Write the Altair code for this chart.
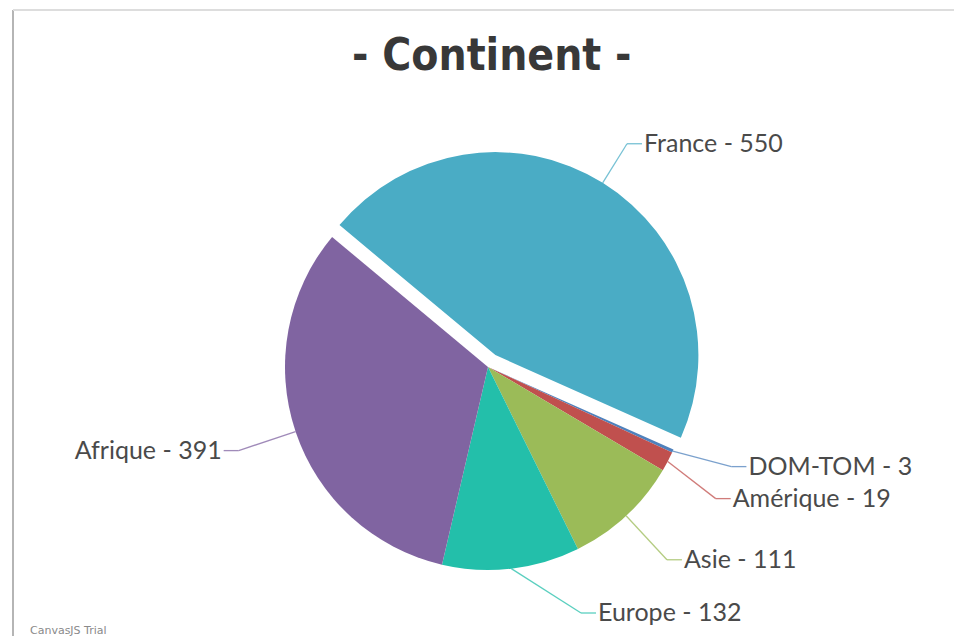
import math
import altair as alt
import pandas as pd

# ---- data (CanvasJS data order, drawn clockwise) ----
categories = ["DOM-TOM", "Amérique", "Asie", "Europe", "Afrique", "France"]
values = [3, 19, 111, 132, 391, 550]
colors = ["#4F81BC", "#C0504E", "#9BBB58", "#23BFAA", "#8064A1", "#4AACC5"]
exploded = "France"
title_text = "- Continent -"
watermark = ["CanvasJS Trial"]

# ---- layout parameters ----
PAD_L, PAD_T = 13, 10
W, H = 941, 626
CX, CY = 475, 357          # pie centre (plot coordinates)
R = 203                    # pie radius
LR = 263                   # label radius
EXPLODE = 14               # explode offset
START = math.radians(114)  # start angle of first slice
GAP = 32                   # min vertical gap between labels
ELBOW = 15
TEXT_PAD = 17
LABEL_MAX_Y = 603

df = pd.DataFrame({"cat": categories, "value": values, "order": list(range(len(categories)))})

base = (
    alt.Chart(df)
    .transform_joinaggregate(total="sum(value)")
    .transform_window(cum="sum(value)", sort=[alt.SortField("order")], frame=[None, 0])
    .transform_calculate(
        a0=f"{START} + 2*PI*(datum.cum - datum.value)/datum.total",
        a1=f"{START} + 2*PI*datum.cum/datum.total",
    )
    .transform_calculate(
        mid="(datum.a0 + datum.a1)/2",
        off=f"datum.cat == '{exploded}' ? {EXPLODE} : 0",
    )
    .transform_calculate(
        cx=f"{CX} + datum.off*sin(datum.mid)",
        cy=f"{CY} - datum.off*cos(datum.mid)",
        side="sin(datum.mid) >= 0 ? 1 : -1",
        ly0=f"{CY} - {LR}*cos(datum.mid)",
    )
    .transform_calculate(
        ex=f"datum.cx + {R}*sin(datum.mid)",
        ey=f"datum.cy - {R}*cos(datum.mid)",
    )
    .transform_window(prev="lag(ly0)", nxt="lead(ly0)", groupby=["side"], sort=[alt.SortField("ly0")])
    .transform_calculate(
        up=f"(datum.nxt != null && datum.nxt - datum.ly0 < {GAP}) ? ({GAP} - (datum.nxt - datum.ly0))/2 : 0",
        down=f"(datum.prev != null && datum.ly0 - datum.prev < {GAP}) ? ({GAP} - (datum.ly0 - datum.prev))/2 : 0",
    )
    .transform_calculate(ly=f"min(datum.ly0 - datum.up + datum.down, {LABEL_MAX_Y})")
    .transform_calculate(
        lx=f"{CX} + datum.side*sqrt(max({LR}*{LR} - (datum.ly-{CY})*(datum.ly-{CY}), 0))",
    )
    .transform_calculate(
        lx2=f"datum.lx + datum.side*{ELBOW}",
        tx=f"datum.lx + datum.side*{TEXT_PAD}",
        label="datum.cat + ' - ' + datum.value",
    )
)

color = alt.Color("cat:N", scale=alt.Scale(domain=categories, range=colors), legend=None)

arcs = base.mark_arc(outerRadius=R).encode(
    theta=alt.Theta("a0:Q", scale=None, stack=None),
    theta2="a1:Q",
    x=alt.X("cx:Q", scale=None, axis=None),
    y=alt.Y("cy:Q", scale=None, axis=None),
    color=color,
)

conn1 = base.mark_rule(strokeWidth=1.3, opacity=0.75).encode(
    x=alt.X("ex:Q", scale=None, axis=None),
    y=alt.Y("ey:Q", scale=None, axis=None),
    x2="lx:Q",
    y2="ly:Q",
    color=color,
)
conn2 = base.mark_rule(strokeWidth=1.3, opacity=0.75).encode(
    x=alt.X("lx:Q", scale=None, axis=None),
    y=alt.Y("ly:Q", scale=None, axis=None),
    x2="lx2:Q",
    color=color,
)

txt_style = dict(baseline="middle", font="Lato", fontSize=25, color="#4a4a4a")
text_r = base.transform_filter("datum.side > 0").mark_text(align="left", **txt_style).encode(
    x=alt.X("tx:Q", scale=None, axis=None),
    y=alt.Y("ly:Q", scale=None, axis=None),
    text="label:N",
)
text_l = base.transform_filter("datum.side < 0").mark_text(align="right", **txt_style).encode(
    x=alt.X("tx:Q", scale=None, axis=None),
    y=alt.Y("ly:Q", scale=None, axis=None),
    text="label:N",
)

# frame of the chart container (left and top edges only)
frame_left = alt.Chart(pd.DataFrame({"k": [0]})).mark_rule(color="#b5b5b5", strokeWidth=2).encode(
    x=alt.value(0), y=alt.value(0), y2=alt.value(H)
)
frame_top = alt.Chart(pd.DataFrame({"k": [0]})).mark_rule(color="#dddddd", strokeWidth=2).encode(
    x=alt.value(0), x2=alt.value(W), y=alt.value(0)
)

wm = alt.Chart(pd.DataFrame({"t": watermark})).mark_text(
    align="left", baseline="alphabetic", fontSize=11, color="#8a8a8a", font="DejaVu Sans"
).encode(x=alt.value(17), y=alt.value(624), text="t:N")

chart = (
    alt.layer(frame_left, frame_top, arcs, conn1, conn2, text_r, text_l, wm)
    .properties(
        width=W,
        height=H,
        padding={"left": PAD_L, "top": PAD_T, "right": 0, "bottom": 0},
        autosize="none",
        title=alt.TitleParams(
            title_text,
            font="Liberation Sans Narrow, DejaVu Sans Condensed, sans-serif",
            fontSize=44,
            fontWeight="bold",
            color="#383838",
            anchor="start",
            offset=-70,
            dx=340,
        ),
    )
    .configure_view(strokeWidth=0)
)

chart.save("out.html", embed_options={"renderer": "svg", "actions": False})
